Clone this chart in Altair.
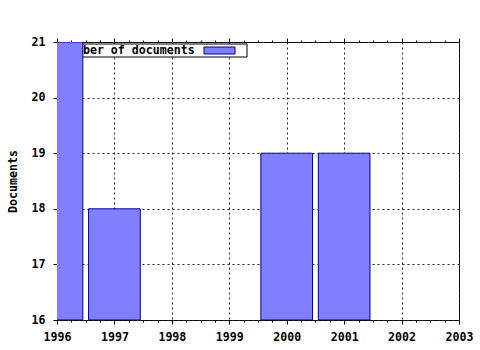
import altair as alt
import pandas as pd

# ---- data ----
years = [1996, 1997, 2000, 2001]
documents = [21, 18, 19, 19]
x_tick_values = [1996, 1997, 1998, 1999, 2000, 2001, 2002, 2003]
y_tick_values = [16, 17, 18, 19, 20, 21]
legend_label = "Number of documents"
y_title = "Documents"

minor_x_ticks = [y + q / 4 for y in x_tick_values[:-1] for q in (1, 2, 3)]
bar_half_width = 0.45

FONT = "DejaVu Sans Mono"
FS = 11.6
FILL = "#8080ff"
EDGE = "#000090"

df = pd.DataFrame({"year": years, "docs": documents})
df["x0"] = df["year"] - bar_half_width
df["x1"] = df["year"] + bar_half_width
df["base"] = y_tick_values[0]

xs = alt.Scale(domain=[x_tick_values[0], x_tick_values[-1]], nice=False, zero=False)
ys = alt.Scale(domain=[y_tick_values[0], y_tick_values[-1]], nice=False, zero=False)

base = alt.Chart(df)

# legend (drawn first so bars cover it, as in the reference)
leg_box = base.mark_rect(fill="white", stroke="black", strokeWidth=1).encode(
    x=alt.value(3), x2=alt.value(190), y=alt.value(2), y2=alt.value(15)
).transform_filter("datum.year == 1996")
leg_text = base.mark_text(
    align="left", baseline="middle", font=FONT, fontSize=FS, fontWeight="bold", color="black"
).encode(x=alt.value(5), y=alt.value(9), text=alt.value(legend_label)).transform_filter("datum.year == 1996")
leg_swatch = base.mark_rect(fill=FILL, stroke=EDGE, strokeWidth=1).encode(
    x=alt.value(147), x2=alt.value(178), y=alt.value(5), y2=alt.value(12)
).transform_filter("datum.year == 1996")

bars = base.mark_rect(fill=FILL, stroke=EDGE, strokeWidth=1, clip=True).encode(
    x=alt.X("x0:Q", scale=xs, axis=alt.Axis(
        orient="bottom", values=x_tick_values, format="d", title=None,
        grid=True, gridDash=[2, 3], gridColor="#222", gridOpacity=1, gridWidth=1,
        ticks=True, tickSize=4, tickColor="black", domain=False,
        labelFont=FONT, labelFontSize=FS, labelFontWeight="bold", labelColor="black",
        labelPadding=7, labelFlush=False)),
    x2="x1:Q",
    y=alt.Y("base:Q", scale=ys, axis=alt.Axis(
        orient="left", values=y_tick_values, format="d", title=y_title,
        grid=True, gridDash=[2, 3], gridColor="#222", gridOpacity=1, gridWidth=1,
        ticks=True, tickSize=4, tickColor="black", domain=False,
        labelFont=FONT, labelFontSize=FS, labelFontWeight="bold", labelColor="black",
        labelPadding=8, labelFlush=False,
        titleFont=FONT, titleFontSize=FS, titleFontWeight="bold", titleColor="black",
        titlePadding=13)),
    y2="docs:Q",
)

def tick_layer(orient, values, size):
    return base.mark_rect(opacity=0).encode(
        x=alt.X("x0:Q", scale=xs, axis=alt.Axis(
            orient=orient, values=values, title=None, labels=False, grid=False,
            ticks=True, tickSize=size, tickColor="black", domain=False)),
        x2="x1:Q",
    )

top_major = tick_layer("top", x_tick_values, 4)
top_minor = tick_layer("top", minor_x_ticks, 2)
bottom_minor = tick_layer("bottom", minor_x_ticks, 2)

chart = alt.layer(
    leg_box, leg_text, leg_swatch, bars, top_major, top_minor, bottom_minor
).resolve_axis(x="independent", y="independent").properties(
    width=402, height=278,
    autosize=alt.AutoSizeParams(type="none"),
    padding={"left": 57, "top": 42, "right": 21, "bottom": 30},
    background="white",
).configure_view(stroke="black", strokeWidth=1)

chart.save("out.html", embed_options={"renderer": "svg", "actions": False})
